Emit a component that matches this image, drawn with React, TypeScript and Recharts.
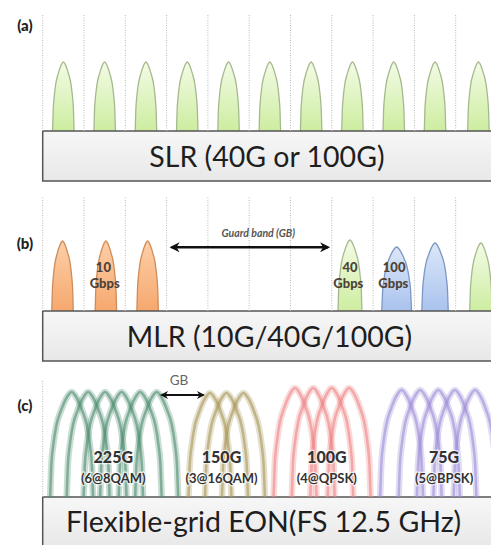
import React from "react";
import {
  ComposedChart,
  XAxis,
  YAxis,
  Area,
  Line,
  Scatter,
  ReferenceLine,
  ReferenceArea,
} from "recharts";

// x is in fixed-grid slots (50 GHz), y in "height above the panel's box"
const X_DOMAIN: [number, number] = [-1.034, 10.855];
const gridSlots = [0, 1, 2, 3, 4, 5, 6, 7, 8, 9, 10];

// shape of one spectrum lobe: offset (in half-widths) -> share of peak
const profileOffset = [-1, -0.95, -0.85, -0.7, -0.5, -0.25, 0, 0.25, 0.5, 0.7, 0.85, 0.95, 1];
const profileLevel = [0, 0.28, 0.5, 0.69, 0.82, 0.94, 1, 0.94, 0.82, 0.69, 0.5, 0.28, 0];

// (a) SLR
const slrCenters = [0.5, 1.5, 2.5, 3.5, 4.5, 5.5, 6.5, 7.5, 8.5, 9.5, 10.55];
const slrHeights = [69, 69, 69, 69, 69, 69, 69, 69, 69, 69, 69];
const slrHalfWidths = [0.26, 0.26, 0.26, 0.26, 0.26, 0.26, 0.26, 0.26, 0.26, 0.26, 0.26];

// (b) MLR
const mlrCenters = [0.48, 1.53, 2.54, 7.44, 8.57, 9.5, 10.61];
const mlrHeights = [70, 70, 70, 71, 64, 68, 68];
const mlrHalfWidths = [0.26, 0.26, 0.26, 0.29, 0.36, 0.32, 0.27];
const mlrRates = ["10G", "10G", "10G", "40G", "100G", "100G", "40G"];

// (c) flexible grid, sub-carriers per super-channel
const eon225Centers = [0.7, 1.1, 1.51, 1.91, 2.36, 2.76];
const eon150Centers = [4.05, 4.45, 4.86];
const eon100Centers = [6.11, 6.55, 7.0, 7.42];
const eon75Centers = [8.69, 9.14, 9.58, 9.98, 10.47];
const eonHeights = [105, 104, 109, 107];
const eonHalfWidth = 0.52;

// text marks
const panelLabelsA = [{ u: -0.43, v: 100, text: "(a)" }];
const panelLabelsB = [{ u: -0.43, v: 62, text: "(b)" }];
const panelLabelsC = [{ u: -0.43, v: 86, text: "(c)" }];
const titleA = [{ u: 5.43, v: -35.7, text: "SLR (40G or 100G)" }];
const titleB = [{ u: 5.49, v: -35.7, text: "MLR (10G/40G/100G)" }];
const titleC = [{ u: 5.35, v: -34.7, text: "Flexible-grid EON(FS 12.5 GHz)" }];
const rateLabels = [
  { u: 1.47, v: 39.3, text: "10" },
  { u: 1.5, v: 23, text: "Gbps" },
  { u: 7.44, v: 39.3, text: "40" },
  { u: 7.4, v: 23, text: "Gbps" },
  { u: 8.51, v: 39.3, text: "100" },
  { u: 8.49, v: 23, text: "Gbps" },
];
const guardBandLabel = [{ u: 5.22, v: 73.7, text: "Guard band (GB)" }];
const gbLabel = [{ u: 3.3, v: 112, text: "GB" }];
const eonRateLabels = [
  { u: 1.71, v: 33.7, text: "225G" },
  { u: 4.33, v: 33.7, text: "150G" },
  { u: 6.88, v: 33.7, text: "100G" },
  { u: 9.72, v: 33.7, text: "75G" },
];
const eonFormatLabels = [
  { u: 1.71, v: 13.7, text: "(6@8QAM)" },
  { u: 4.33, v: 13.7, text: "(3@16QAM)" },
  { u: 6.88, v: 13.7, text: "(4@QPSK)" },
  { u: 9.72, v: 13.7, text: "(5@BPSK)" },
];

const FONT = "Lato, 'Open Sans', sans-serif";

const lobe = (c: number, hw: number, h: number) =>
  profileOffset.map((o, i) => ({ u: c + o * hw, v: h * profileLevel[i] }));

const rateFill: any = { "10G": "url(#gOrange)", "40G": "url(#gGreen)", "100G": "url(#gBlue)" };
const rateStroke: any = { "10G": "#cf8c58", "40G": "#a6b98e", "100G": "#7c97c6" };

const makeText = (style: any) => (p: any) => (
  <text
    x={p.cx}
    y={p.cy}
    textAnchor="middle"
    fontFamily={FONT}
    paintOrder="stroke"
    {...style}
  >
    {p.payload.text}
  </text>
);

const panelLabelShape = makeText({ fontSize: 15, fontWeight: 900, fill: "#222" });
const titleShape = makeText({ fontSize: 28.5, fill: "#1e1e1e" });
const rateShape = makeText({ fontSize: 13, fontWeight: 900, fill: "#4e4236" });
const gbBandShape = makeText({ fontSize: 10.5, fontStyle: "italic", fontWeight: 700, fill: "#555" });
const gbShape = makeText({ fontSize: 13.5, fill: "#666" });
const eonRateShape = makeText({ fontSize: 16, fontWeight: 900, fill: "#333", stroke: "#fff", strokeWidth: 2.5, strokeOpacity: 0.7 });
const eonFmtShape = makeText({ fontSize: 13, fontWeight: 700, fill: "#333", stroke: "#fff", strokeWidth: 2.5, strokeOpacity: 0.7 });

const arrowShape = (marker: string, width: number) => (p: any) => (
  <line
    x1={p.x1}
    y1={p.y1}
    x2={p.x2}
    y2={p.y2}
    stroke="#111"
    strokeWidth={width}
    markerStart={`url(#${marker})`}
    markerEnd={`url(#${marker})`}
  />
);

const axes = (yDomain: [number, number]) => [
  <XAxis key="x" type="number" dataKey="u" domain={X_DOMAIN} hide allowDataOverflow />,
  <YAxis key="y" type="number" dataKey="v" domain={yDomain} hide allowDataOverflow />,
];

const gridLines = (slots: number[], top: number) =>
  slots.map((s) => (
    <ReferenceLine
      key={`g${s}`}
      segment={[{ x: s, y: 0 }, { x: s, y: top }]}
      stroke="#b8b8b8"
      strokeDasharray="1 1.5"
      strokeWidth={1}
      ifOverflow="visible"
    />
  ));

const box = (
  <ReferenceArea
    x1={0}
    x2={11.5}
    y1={-50}
    y2={0}
    fill="url(#gBox)"
    fillOpacity={1}
    stroke="#555"
    strokeWidth={1.5}
    ifOverflow="visible"
  />
);

const textSeries = (key: string, data: any[], shape: any) => (
  <Scatter key={key} data={data} dataKey="v" shape={shape} isAnimationActive={false} />
);

const eonArcs = (centers: number[], h: number, color: string, key: string) =>
  centers.flatMap((c, i) => [
    <Line
      key={`${key}w${i}`}
      data={lobe(c, eonHalfWidth, h)}
      dataKey="v"
      type="monotone"
      stroke={color}
      strokeOpacity={0.3}
      strokeWidth={6.5}
      dot={false}
      activeDot={false}
      isAnimationActive={false}
    />,
    <Line
      key={`${key}n${i}`}
      data={lobe(c, eonHalfWidth, h)}
      dataKey="v"
      type="monotone"
      stroke={color}
      strokeOpacity={0.6}
      strokeWidth={2.5}
      dot={false}
      activeDot={false}
      isAnimationActive={false}
    />,
  ]);

export default function App() {
  const margin = { top: 0, right: 0, bottom: 0, left: 0 };
  return (
    <div style={{ width: 491, height: 545, background: "#fff", overflow: "hidden" }}>
      <style>{"body{margin:0}"}</style>
      <svg width={0} height={0} style={{ position: "absolute" }}>
        <defs>
          <linearGradient id="gGreen" x1="0" y1="0" x2="0" y2="1">
            <stop offset="0%" stopColor="#f3fbe6" />
            <stop offset="100%" stopColor="#cdeda0" />
          </linearGradient>
          <linearGradient id="gOrange" x1="0" y1="0" x2="0" y2="1">
            <stop offset="0%" stopColor="#fccfa8" />
            <stop offset="100%" stopColor="#f6a86e" />
          </linearGradient>
          <linearGradient id="gBlue" x1="0" y1="0" x2="0" y2="1">
            <stop offset="0%" stopColor="#dce7f8" />
            <stop offset="100%" stopColor="#a9c3ee" />
          </linearGradient>
          <linearGradient id="gBox" x1="0" y1="0" x2="0" y2="1">
            <stop offset="0%" stopColor="#f7f7f7" />
            <stop offset="100%" stopColor="#e8e8e8" />
          </linearGradient>
          <marker id="headB" viewBox="0 0 10 10" refX="8" refY="5" markerWidth="11" markerHeight="10" markerUnits="userSpaceOnUse" orient="auto-start-reverse">
            <path d="M0,0 L10,5 L0,10 L3,5 z" fill="#111" />
          </marker>
          <marker id="headC" viewBox="0 0 10 10" refX="8" refY="5" markerWidth="9" markerHeight="8" markerUnits="userSpaceOnUse" orient="auto-start-reverse">
            <path d="M0,0 L10,5 L0,10 L3,5 z" fill="#111" />
          </marker>
        </defs>
      </svg>

      {/* (a) single line rate */}
      <ComposedChart width={491} height={185} margin={margin}>
        {axes([-54, 131])}
        {gridLines(gridSlots, 116)}
        {slrCenters.map((c, i) => (
          <Area
            key={`a${i}`}
            data={lobe(c, slrHalfWidths[i], slrHeights[i])}
            dataKey="v"
            type="monotone"
            baseValue={0}
            fill="url(#gGreen)"
            fillOpacity={1}
            stroke="#a6b98e"
            strokeWidth={1.3}
            dot={false}
            activeDot={false}
            isAnimationActive={false}
          />
        ))}
        {box}
        {textSeries("la", panelLabelsA, panelLabelShape)}
        {textSeries("ta", titleA, titleShape)}
      </ComposedChart>

      {/* (b) mixed line rate */}
      <ComposedChart width={491} height={180} margin={margin}>
        {axes([-54, 126])}
        {gridLines(gridSlots, 114)}
        {mlrCenters.map((c, i) => (
          <Area
            key={`b${i}`}
            data={lobe(c, mlrHalfWidths[i], mlrHeights[i])}
            dataKey="v"
            type="monotone"
            baseValue={0}
            fill={rateFill[mlrRates[i]]}
            fillOpacity={1}
            stroke={rateStroke[mlrRates[i]]}
            strokeWidth={1.3}
            dot={false}
            activeDot={false}
            isAnimationActive={false}
          />
        ))}
        <ReferenceLine
          segment={[{ x: 3.12, y: 63.7 }, { x: 6.91, y: 63.7 }]}
          shape={arrowShape("headB", 2.5)}
          ifOverflow="visible"
        />
        {box}
        {textSeries("lb", panelLabelsB, panelLabelShape)}
        {textSeries("tb", titleB, titleShape)}
        {textSeries("rb", rateLabels, rateShape)}
        {textSeries("gb", guardBandLabel, gbBandShape)}
      </ComposedChart>

      {/* (c) flexible grid EON */}
      <ComposedChart width={491} height={180} margin={margin}>
        {axes([-48, 132])}
        {gridLines([0], 117)}
        {eonArcs(eon225Centers, eonHeights[0], "#4f8d70", "g")}
        {eonArcs(eon150Centers, eonHeights[1], "#a89758", "o")}
        {eonArcs(eon100Centers, eonHeights[2], "#ee8585", "r")}
        {eonArcs(eon75Centers, eonHeights[3], "#9f8ed8", "p")}
        <ReferenceLine
          segment={[{ x: 2.88, y: 102 }, { x: 3.89, y: 102 }]}
          shape={arrowShape("headC", 2)}
          ifOverflow="visible"
        />
        {box}
        {textSeries("lc", panelLabelsC, panelLabelShape)}
        {textSeries("tc", titleC, titleShape)}
        {textSeries("gc", gbLabel, gbShape)}
        {textSeries("ec", eonRateLabels, eonRateShape)}
        {textSeries("fc", eonFormatLabels, eonFmtShape)}
      </ComposedChart>
    </div>
  );
}
